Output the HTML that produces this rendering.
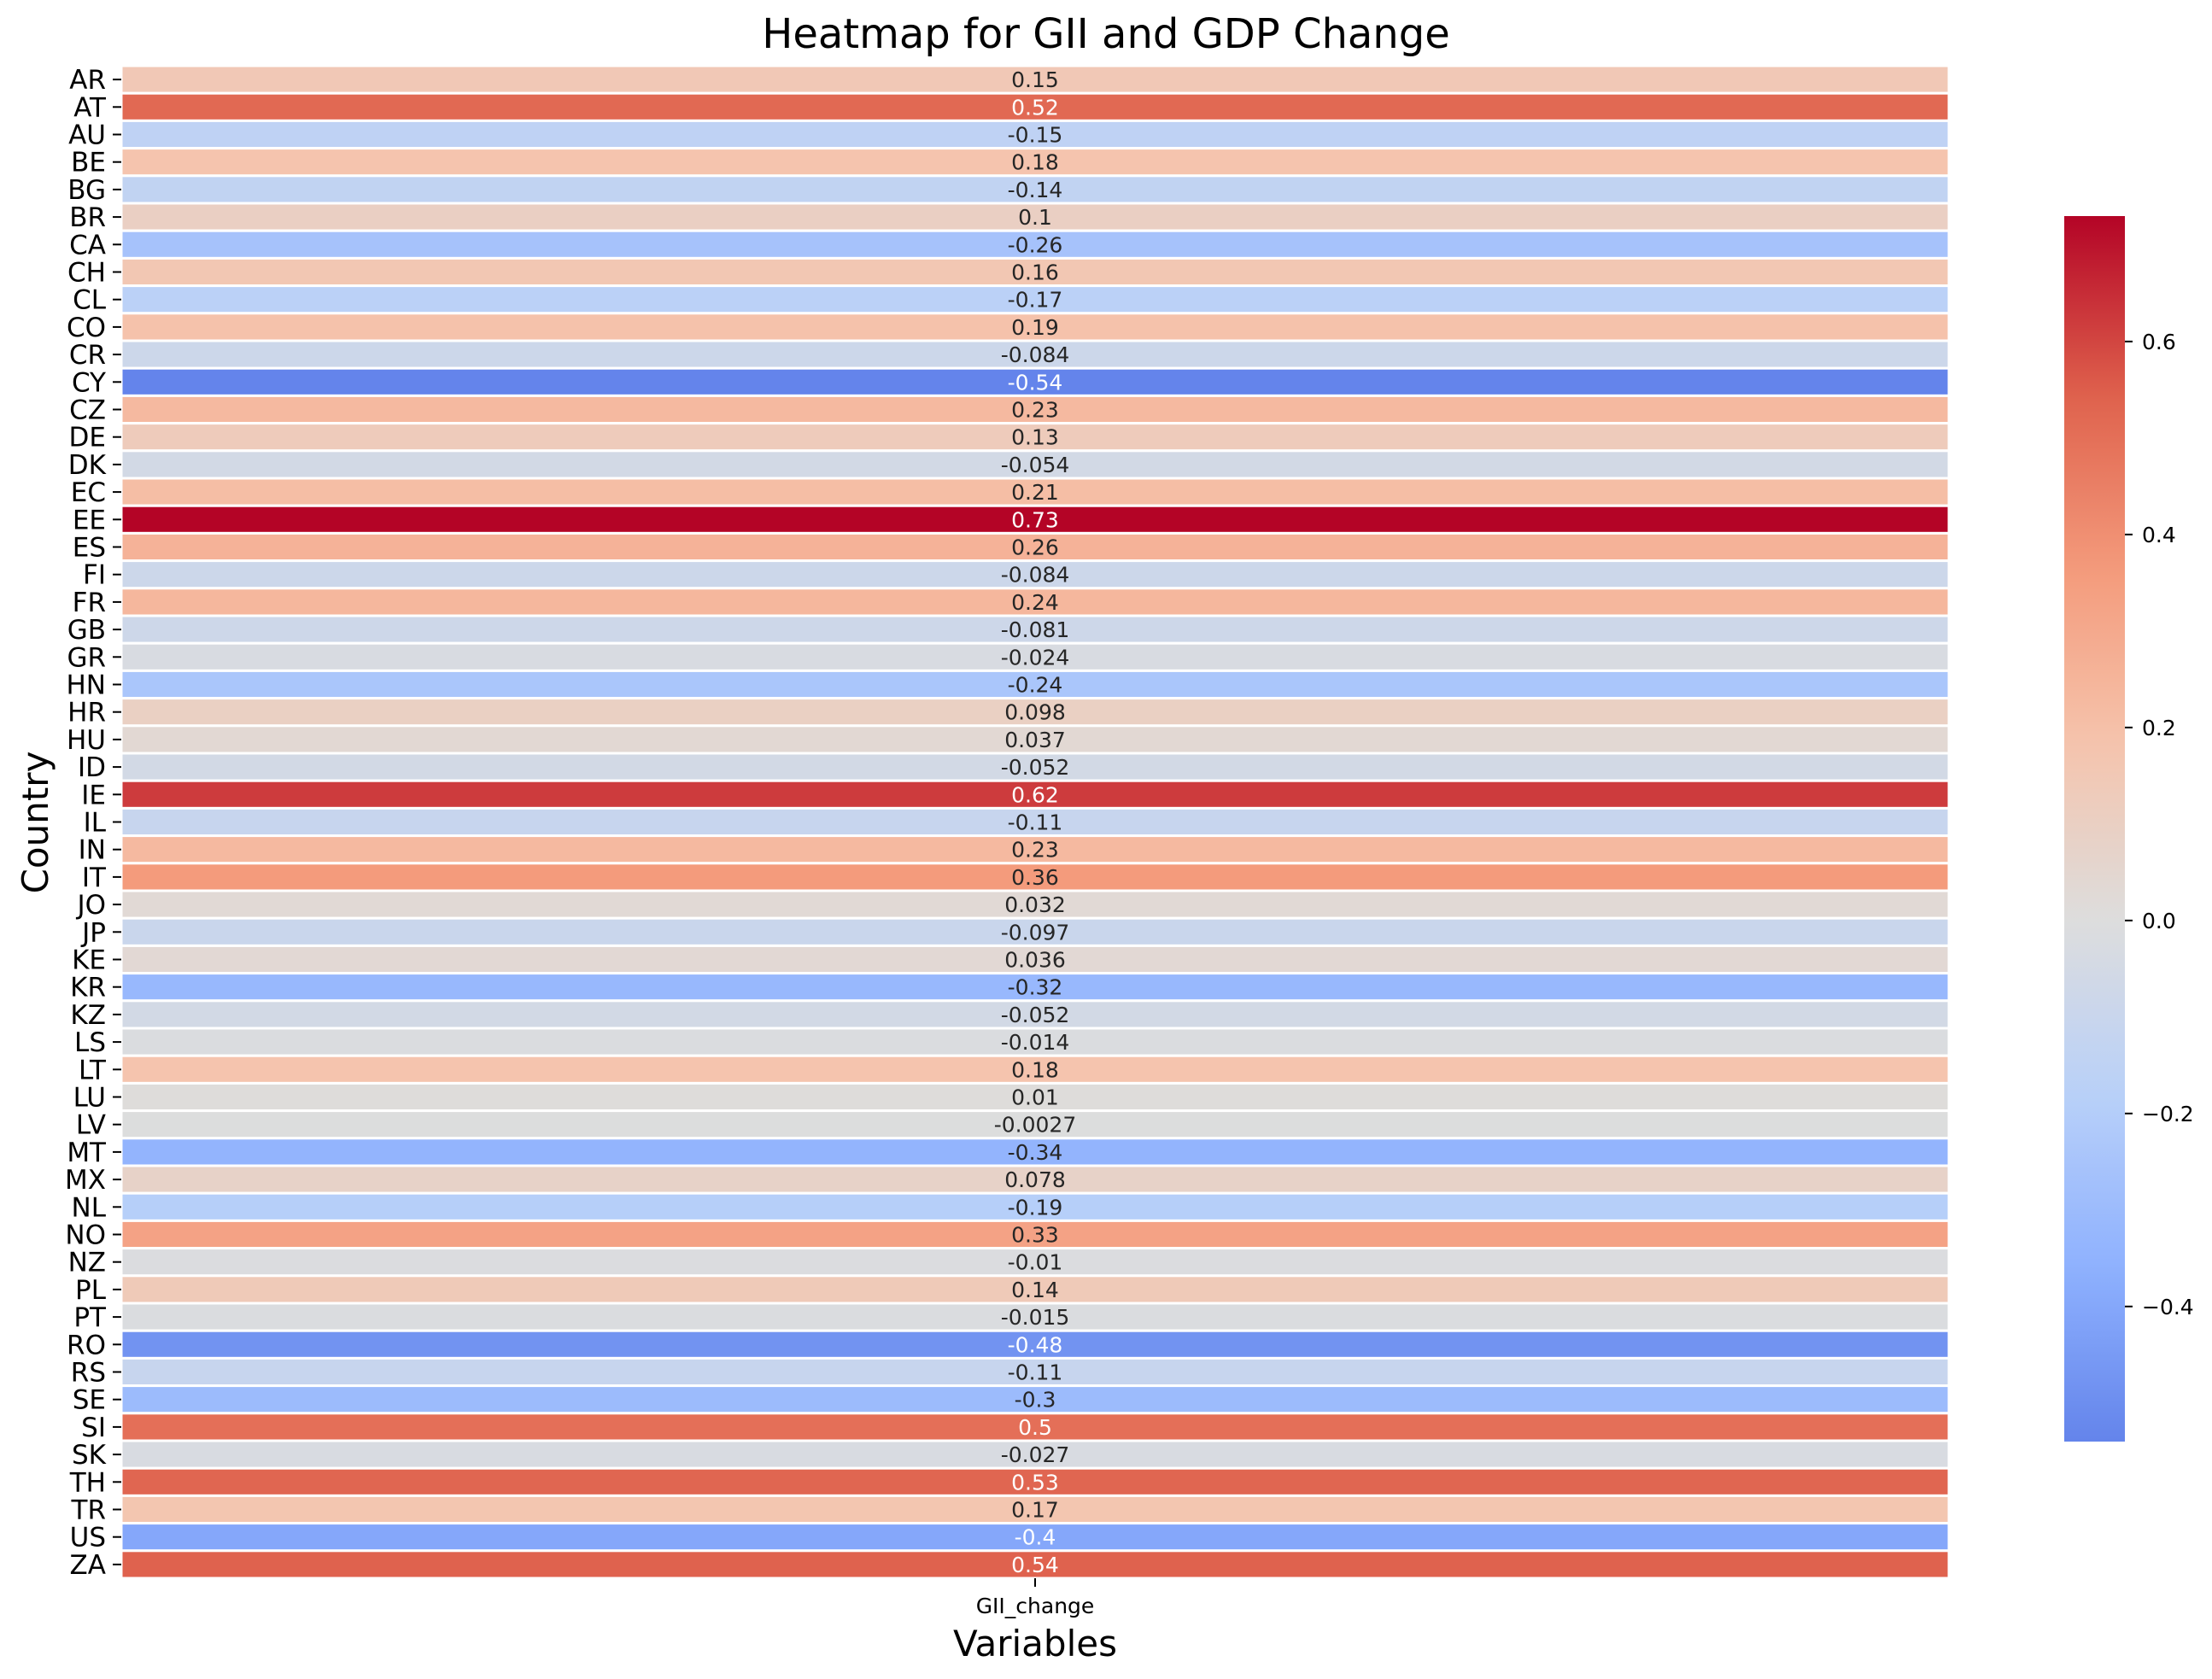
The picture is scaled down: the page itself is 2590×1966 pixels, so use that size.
<!DOCTYPE html>
<html><head><meta charset="utf-8"><style>
html,body{margin:0;padding:0;background:#fff;}
svg{display:block;font-family:"DejaVu Sans","Liberation Sans",sans-serif;}
</style></head><body>
<svg id="chart" width="2590" height="1966" viewBox="0 0 2590 1966" xmlns="http://www.w3.org/2000/svg">
<defs><linearGradient id="cbgrad" x1="0" y1="1" x2="0" y2="0"></linearGradient></defs>
<text x="1295" y="56" text-anchor="middle" font-size="48">Heatmap for GII and GDP Change</text>
<g id="cells"></g>
<g id="yticks"></g>
<line x1="1212" y1="1848" x2="1212" y2="1858" stroke="#000" stroke-width="2"/>
<text x="1212" y="1889" text-anchor="middle" font-size="25">GII_change</text>
<text x="1212" y="1939" text-anchor="middle" font-size="42">Variables</text>
<text transform="translate(56,963) rotate(-90)" text-anchor="middle" font-size="42">Country</text>
<rect id="cbar" x="2417" y="253" width="71" height="1435" fill="url(#cbgrad)"/>
<g id="cbticks"></g>
</svg>
<script>
const countries = ["AR","AT","AU","BE","BG","BR","CA","CH","CL","CO","CR","CY","CZ","DE","DK","EC","EE","ES","FI","FR","GB","GR","HN","HR","HU","ID","IE","IL","IN","IT","JO","JP","KE","KR","KZ","LS","LT","LU","LV","MT","MX","NL","NO","NZ","PL","PT","RO","RS","SE","SI","SK","TH","TR","US","ZA"];
const values = [0.15,0.52,-0.15,0.18,-0.14,0.1,-0.26,0.16,-0.17,0.19,-0.084,-0.54,0.23,0.13,-0.054,0.21,0.73,0.26,-0.084,0.24,-0.081,-0.024,-0.24,0.098,0.037,-0.052,0.62,-0.11,0.23,0.36,0.032,-0.097,0.036,-0.32,-0.052,-0.014,0.18,0.01,-0.0027,-0.34,0.078,-0.19,0.33,-0.01,0.14,-0.015,-0.48,-0.11,-0.3,0.5,-0.027,0.53,0.17,-0.4,0.54];
const cbTicks = [-0.4,-0.2,0.0,0.2,0.4,0.6];
const cmapStops=[[59,76,192],[98,130,234],[141,176,254],[184,208,249],[221,221,221],[245,196,173],[244,154,123],[222,96,76],[180,4,38]];
function cmap(t){t=Math.max(0,Math.min(1,t));const p=t*(cmapStops.length-1);const i=Math.min(Math.floor(p),cmapStops.length-2);const f=p-i;const a=cmapStops[i],b=cmapStops[i+1];return [0,1,2].map(k=>Math.round(a[k]+(b[k]-a[k])*f));}
const vmin=Math.min(...values), vmax=Math.max(...values);
const vr=Math.max(Math.abs(vmin),Math.abs(vmax));
function norm(v){return (v+vr)/(2*vr);}
function rgb(c){return `rgb(${c[0]},${c[1]},${c[2]})`;}
function lum(c){const l=c.map(x=>{x/=255;return x<=0.03928?x/12.92:Math.pow((x+0.055)/1.055,2.4);});return 0.2126*l[0]+0.7152*l[1]+0.0722*l[2];}
const NS="http://www.w3.org/2000/svg";
const X0=142,X1=2282,Y0=77,Y1=1848;
const rowH=(Y1-Y0)/countries.length;
function yPos(i){return Y0+i*rowH;}
const cells=document.getElementById('cells'),yt=document.getElementById('yticks');
countries.forEach((c,i)=>{
  const col=cmap(norm(values[i]));
  const r=document.createElementNS(NS,'rect');
  r.setAttribute('x',X0);r.setAttribute('y',yPos(i));r.setAttribute('width',X1-X0);r.setAttribute('height',rowH);
  r.setAttribute('fill',rgb(col));r.setAttribute('stroke','#fff');r.setAttribute('stroke-width','3');
  
  
  cells.appendChild(r);
  const t=document.createElementNS(NS,'text');
  t.setAttribute('x',(X0+X1)/2);t.setAttribute('y',yPos(i)+rowH/2+9);t.setAttribute('text-anchor','middle');t.setAttribute('font-size','25');
  t.setAttribute('fill',lum(col)>0.408?'#262626':'#fff');
  t.textContent=String(values[i]);
  
  
  cells.appendChild(t);
  const tk=document.createElementNS(NS,'line');
  tk.setAttribute('x1',X0-10);tk.setAttribute('x2',X0);tk.setAttribute('y1',yPos(i)+rowH/2);tk.setAttribute('y2',yPos(i)+rowH/2);tk.setAttribute('stroke','#000');tk.setAttribute('stroke-width','2');
  
  
  yt.appendChild(tk);
  const lb=document.createElementNS(NS,'text');
  lb.setAttribute('x',X0-18);lb.setAttribute('y',yPos(i)+rowH/2+11);lb.setAttribute('text-anchor','end');lb.setAttribute('font-size','31');
  lb.textContent=c;
  
  
  yt.appendChild(lb);
});
// colorbar gradient
const g=document.getElementById('cbgrad');
for(let k=0;k<=40;k++){const v=vmin+(vmax-vmin)*k/40;const s=document.createElementNS(NS,'stop');s.setAttribute('offset',(k/40*100)+'%');s.setAttribute('stop-color',rgb(cmap(norm(v))));g.appendChild(s);}
const CB0=253,CB1=1688;
function cbY(v){return CB1-(v-vmin)/(vmax-vmin)*(CB1-CB0);}
const cbt=document.getElementById('cbticks');
cbTicks.forEach(v=>{
  const l=document.createElementNS(NS,'line');
  l.setAttribute('x1',2488);l.setAttribute('x2',2497);l.setAttribute('y1',cbY(v));l.setAttribute('y2',cbY(v));l.setAttribute('stroke','#000');l.setAttribute('stroke-width','2');
  
  
  cbt.appendChild(l);
  const t=document.createElementNS(NS,'text');
  t.setAttribute('x',2508);t.setAttribute('y',cbY(v)+9);t.setAttribute('font-size','25');
  t.textContent=(v<0?'\u2212':'')+Math.abs(v).toFixed(1);
  
  
  cbt.appendChild(t);
});
</script>
</body></html>
